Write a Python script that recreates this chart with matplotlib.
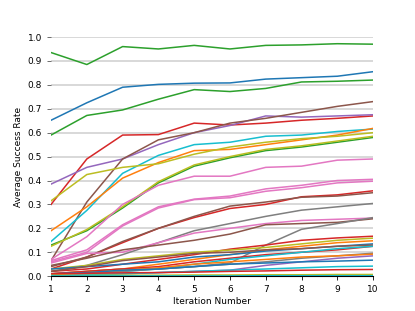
import matplotlib
matplotlib.use("Agg")
import matplotlib.pyplot as plt

iterations = [1, 2, 3, 4, 5, 6, 7, 8, 9, 10]

# success rate curves, one per run
curves = [
    [0.935, 0.885, 0.960, 0.950, 0.965, 0.950, 0.965, 0.967, 0.972, 0.970],
    [0.652, 0.725, 0.790, 0.802, 0.807, 0.808, 0.824, 0.830, 0.836, 0.855],
    [0.590, 0.672, 0.695, 0.740, 0.780, 0.772, 0.785, 0.812, 0.815, 0.820],
    [0.300, 0.490, 0.590, 0.592, 0.640, 0.632, 0.640, 0.652, 0.660, 0.670],
    [0.385, 0.455, 0.490, 0.550, 0.600, 0.630, 0.670, 0.665, 0.670, 0.675],
    [0.065, 0.310, 0.490, 0.570, 0.600, 0.640, 0.660, 0.685, 0.710, 0.730],
    [0.145, 0.275, 0.430, 0.505, 0.550, 0.560, 0.585, 0.590, 0.605, 0.615],
    [0.190, 0.290, 0.410, 0.475, 0.525, 0.530, 0.550, 0.570, 0.590, 0.618],
    [0.315, 0.425, 0.455, 0.470, 0.510, 0.540, 0.560, 0.575, 0.585, 0.600],
    [0.130, 0.190, 0.285, 0.390, 0.460, 0.495, 0.525, 0.540, 0.560, 0.580],
    [0.125, 0.195, 0.290, 0.395, 0.465, 0.500, 0.530, 0.545, 0.565, 0.585],
    [0.070, 0.165, 0.300, 0.380, 0.418, 0.418, 0.455, 0.460, 0.485, 0.490],
    [0.065, 0.110, 0.215, 0.290, 0.322, 0.335, 0.365, 0.380, 0.400, 0.405],
    [0.060, 0.100, 0.210, 0.285, 0.320, 0.328, 0.355, 0.370, 0.390, 0.397],
    [0.030, 0.080, 0.140, 0.200, 0.245, 0.283, 0.300, 0.332, 0.340, 0.357],
    [0.040, 0.080, 0.145, 0.200, 0.250, 0.293, 0.310, 0.330, 0.335, 0.349],
    [0.020, 0.045, 0.090, 0.140, 0.190, 0.220, 0.250, 0.276, 0.290, 0.304],
    [0.055, 0.095, 0.100, 0.140, 0.180, 0.200, 0.220, 0.233, 0.238, 0.243],
    [0.045, 0.075, 0.110, 0.130, 0.150, 0.176, 0.215, 0.220, 0.225, 0.240],
    [0.010, 0.020, 0.030, 0.030, 0.040, 0.055, 0.130, 0.196, 0.220, 0.245],
    [0.020, 0.030, 0.050, 0.070, 0.090, 0.113, 0.130, 0.150, 0.160, 0.167],
    [0.030, 0.045, 0.070, 0.085, 0.100, 0.109, 0.120, 0.135, 0.150, 0.159],
    [0.010, 0.020, 0.030, 0.050, 0.070, 0.090, 0.110, 0.125, 0.140, 0.148],
    [0.030, 0.040, 0.050, 0.060, 0.080, 0.090, 0.105, 0.115, 0.125, 0.135],
    [0.020, 0.040, 0.065, 0.080, 0.095, 0.100, 0.110, 0.115, 0.125, 0.130],
    [0.010, 0.020, 0.030, 0.040, 0.060, 0.075, 0.090, 0.100, 0.110, 0.125],
    [0.005, 0.010, 0.020, 0.030, 0.050, 0.070, 0.085, 0.100, 0.115, 0.125],
    [0.000, 0.010, 0.020, 0.030, 0.040, 0.050, 0.060, 0.075, 0.085, 0.096],
    [0.005, 0.015, 0.025, 0.035, 0.050, 0.060, 0.070, 0.080, 0.085, 0.092],
    [0.000, 0.005, 0.010, 0.015, 0.020, 0.025, 0.045, 0.060, 0.075, 0.085],
    [0.010, 0.015, 0.025, 0.030, 0.040, 0.050, 0.055, 0.060, 0.063, 0.067],
    [0.000, 0.005, 0.010, 0.015, 0.020, 0.025, 0.030, 0.035, 0.040, 0.042],
    [0.010, 0.012, 0.014, 0.015, 0.017, 0.020, 0.022, 0.025, 0.027, 0.028],
    [0.003, 0.003, 0.004, 0.004, 0.005, 0.005, 0.006, 0.006, 0.007, 0.007],
    [0.001, 0.001, 0.001, 0.001, 0.001, 0.001, 0.002, 0.002, 0.002, 0.002],
]

colors = [
    'tab:green', 'tab:blue', 'tab:green', 'tab:red', 'tab:purple',
    'tab:brown', 'tab:cyan', 'tab:orange', 'tab:olive', 'tab:green',
    'tab:olive', 'tab:pink', 'tab:pink', 'tab:pink', 'tab:red',
    'tab:brown', 'tab:gray', 'tab:pink', 'tab:brown', 'tab:gray',
    'tab:red', 'tab:olive', 'tab:orange', 'tab:blue', 'tab:brown',
    'tab:red', 'tab:cyan', 'tab:gray', 'tab:orange', 'tab:purple',
    'tab:blue', 'tab:cyan', 'tab:red', 'tab:olive', 'tab:cyan',
]

fig = plt.figure(figsize=(4.15, 3.11), dpi=100)
ax = fig.add_axes([0.123, 0.112, 0.776, 0.769])

for vals, c in zip(curves, colors):
    ax.plot(iterations, vals, color=c, linewidth=1.1)

ax.set_xlim(1, 10)
ax.set_ylim(0, 1.0)
ax.set_xticks(iterations)
ax.set_yticks([i / 10 for i in range(11)])
ax.grid(axis='y', color='#d6d6d6', linewidth=1.3)
ax.set_axisbelow(True)
for s in ['top', 'right', 'left']:
    ax.spines[s].set_visible(False)
ax.spines['bottom'].set_linewidth(0.8)
ax.tick_params(labelsize=6.5, length=3, width=0.6)
ax.tick_params(axis='y', color='#555555')
ax.set_xlabel('Iteration Number', fontsize=6.5, labelpad=2)
ax.set_ylabel('Average Success Rate', fontsize=6.5, labelpad=3)

fig.savefig('out.png', dpi=100)
